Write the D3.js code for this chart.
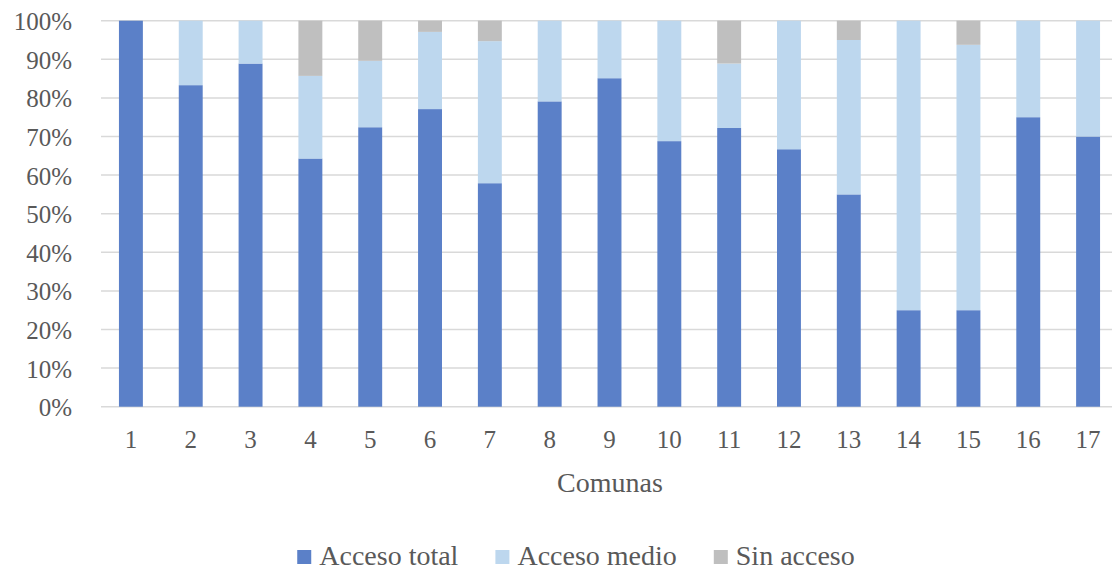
<!DOCTYPE html>
<html>
<head>
<meta charset="utf-8">
<script src="https://cdn.jsdelivr.net/npm/d3@7"></script>
<style>
  html, body { margin: 0; padding: 0; background: #fff; }
  svg { display: block; }
  text { font-family: "Liberation Serif", "Times New Roman", serif; fill: #595959; }
</style>
</head>
<body>
<svg id="chart" width="1112" height="571"></svg>
<script>
const comunas = ["1","2","3","4","5","6","7","8","9","10","11","12","13","14","15","16","17"];
const accesoTotal = [100, 83.3, 88.9, 64.3, 72.4, 77.1, 57.9, 79.1, 85.1, 68.8, 72.2, 66.7, 55.0, 25.0, 25.0, 75.0, 70.0];
const accesoMedio = [0, 16.7, 11.1, 21.4, 17.2, 20.0, 36.8, 20.9, 14.9, 31.2, 16.7, 33.3, 40.0, 75.0, 68.75, 25.0, 30.0];
const sinAcceso   = [0, 0, 0, 14.3, 10.4, 2.9, 5.3, 0, 0, 0, 11.1, 0, 5.0, 0, 6.25, 0, 0];
const seriesNames = ["Acceso total", "Acceso medio", "Sin acceso"];
const seriesColors = ["#5b80c8", "#bdd7ee", "#bfbfbf"];
const yTicks = [0, 10, 20, 30, 40, 50, 60, 70, 80, 90, 100];

const svg = d3.select("#chart");
const plotLeft = 101, plotRight = 1118, plotTop = 20.7, plotBottom = 406.7;

const rows = comunas.map((c, i) => ({
  comuna: c,
  "Acceso total": accesoTotal[i],
  "Acceso medio": accesoMedio[i],
  "Sin acceso": sinAcceso[i]
}));
const stacked = d3.stack().keys(seriesNames)(rows);

const x = d3.scaleBand().domain(comunas).range([plotLeft, plotRight]).paddingInner(0.6).paddingOuter(0.3);
const y = d3.scaleLinear().domain([0, 100]).range([plotBottom, plotTop]);
const color = d3.scaleOrdinal().domain(seriesNames).range(seriesColors);

// gridlines
svg.append("g").selectAll("line").data(yTicks).join("line")
  .attr("x1", plotLeft).attr("x2", 1112)
  .attr("y1", d => y(d)).attr("y2", d => y(d))
  .attr("stroke", "#d9d9d9").attr("stroke-width", 1.5);

// bars
svg.append("g").selectAll("g").data(stacked).join("g")
  .attr("fill", d => color(d.key))
  .selectAll("rect").data(d => d).join("rect")
  .attr("x", d => x(d.data.comuna))
  .attr("width", x.bandwidth())
  .attr("y", d => y(Math.min(100, d[1])))
  .attr("height", d => Math.max(0, y(d[0]) - y(Math.min(100, d[1]))));

// y axis labels
const yAxis = d3.axisLeft(y).tickValues(yTicks).tickFormat(d => d + "%").tickSize(0).tickPadding(0);
const yg = svg.append("g").attr("transform", `translate(72,0)`).call(yAxis);
yg.select(".domain").remove();
yg.selectAll("text").attr("font-size", 25).attr("fill", "#595959")
  .attr("font-family", "Liberation Serif").attr("dy", "0.36em");

// x axis labels
const xAxis = d3.axisBottom(x).tickSize(0).tickPadding(0);
const xg = svg.append("g").attr("transform", `translate(0,${plotBottom})`).call(xAxis);
xg.select(".domain").remove();
xg.selectAll("text").attr("font-size", 25).attr("fill", "#595959")
  .attr("font-family", "Liberation Serif").attr("dy", null).attr("y", 41);

// axis title
svg.append("text").attr("x", 610).attr("y", 492).attr("text-anchor", "middle")
  .attr("font-size", 28).text("Comunas");

// legend
const lg = svg.append("g");
let cx = 0;
seriesNames.forEach((name, i) => {
  const g = lg.append("g").attr("transform", `translate(${cx},0)`);
  g.append("rect").attr("x", 0).attr("y", 550).attr("width", 14).attr("height", 14).attr("fill", seriesColors[i]);
  const t = g.append("text").attr("x", 22).attr("y", 565).attr("font-size", 28).text(name);
  cx += 22 + t.node().getComputedTextLength() + 37;
});
const total = cx - 37;
lg.attr("transform", `translate(${576 - total / 2},0)`);
</script>
</body>
</html>
